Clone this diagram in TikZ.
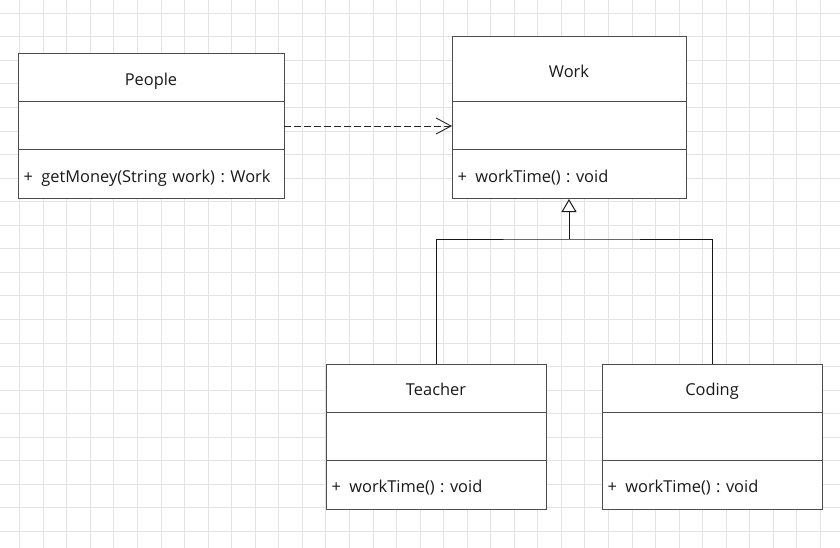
\documentclass[tikz,border=0pt]{standalone}
\usepackage{fontspec}
\setmainfont{Open Sans}
\usetikzlibrary{positioning,arrows.meta}
\tikzset{
  gridline/.style={draw=gray!22, line width=0.9pt},
  umlpart/.style={draw=black!70, line width=1pt, fill=white, outer sep=0pt, inner sep=0pt,
    minimum height=48pt, text height=15.5pt, text depth=0pt, text=black!90,
    font=\fontsize{16.4}{19}\selectfont\frenchspacing},
  umlhead/.style={umlpart, align=center},
  umlops/.style={umlpart, minimum height=49pt, inner xsep=5.5pt, align=left},
  depend/.style={draw=black!85, line width=0.9pt, dash pattern=on 6.5pt off 3.5pt,
    -{Straight Barb[length=15pt, width=16pt, line width=0.9pt]}},
  inherit/.style={draw=black!90, line width=1pt},
}
\begin{document}
\begin{tikzpicture}[x=1pt, y=-1pt]
	\fill[white] (0,0) rectangle (840,548);
	\useasboundingbox (0,0) rectangle (840,548);
	% background grid
	\foreach \i in {0,...,34} \draw[gridline] ({19.7+\i*23.55},0) -- ({19.7+\i*23.55},548);
	\foreach \j in {0,...,22} \draw[gridline] (0,{13.3+\j*23.55}) -- (840,{13.3+\j*23.55});
	% classes
	\node[umlhead, minimum width=266pt, anchor=north west] (people) at (18,54) {People};
	\node[umlpart, minimum width=266pt, below=0pt of people] (people attr) {};
	\node[umlops, minimum width=266pt, text width=255pt, below=0pt of people attr] (people ops) {+\hspace{8.5pt}getMoney(String work) : Work};
	\node[umlhead, minimum width=234pt, minimum height=65pt, anchor=north west] (work) at (452,37) {Work};
	\node[umlpart, minimum width=234pt, below=0pt of work] (work attr) {};
	\node[umlops, minimum width=234pt, text width=223pt, below=0pt of work attr] (work ops) {+\hspace{8.5pt}workTime() : void};
	\node[umlhead, minimum width=220pt, anchor=north west] (teacher) at (326,364) {Teacher};
	\node[umlpart, minimum width=220pt, below=0pt of teacher] (teacher attr) {};
	\node[umlops, minimum width=220pt, text width=209pt, below=0pt of teacher attr] (teacher ops) {+\hspace{8.5pt}workTime() : void};
	\node[umlhead, minimum width=220pt, anchor=north west] (coding) at (602,364) {Coding};
	\node[umlpart, minimum width=220pt, below=0pt of coding] (coding attr) {};
	\node[umlops, minimum width=220pt, text width=209pt, below=0pt of coding attr] (coding ops) {+\hspace{8.5pt}workTime() : void};
	% relations
	\draw[depend] (people attr.east) -- (work attr.west);
	\coordinate (fork) at ([yshift=-40pt]work ops.south);
	\draw[inherit] (teacher.north) |- (fork) -| (coding.north);
	\draw[inherit, -{Triangle[open, fill=white, length=13pt, width=15pt]}] (fork) -- (work ops.south);
\end{tikzpicture}
\end{document}
